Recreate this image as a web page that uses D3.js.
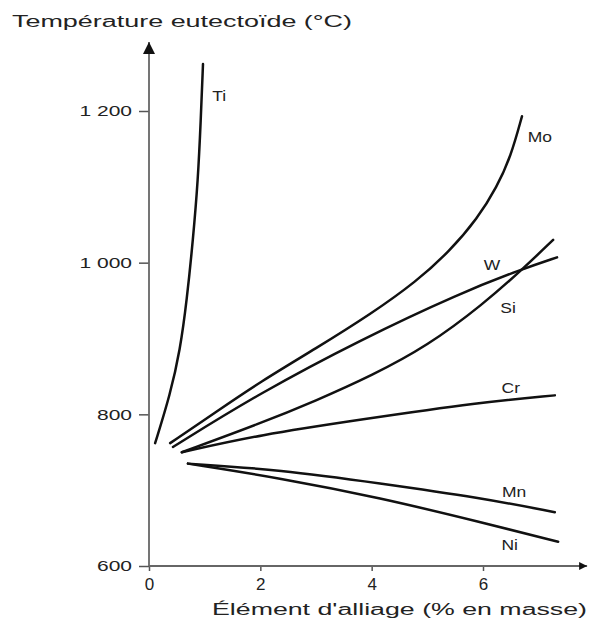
<!DOCTYPE html>
<html>
<head>
<meta charset="utf-8">
<script src="https://cdn.jsdelivr.net/npm/d3@7"></script>
<style>
  body { margin: 0; background: #fff; }
  svg { display: block; font-family: 'Liberation Sans', Arial, Helvetica, sans-serif; }
  .curve { fill: none; stroke: #111; stroke-width: 2.5; stroke-linecap: round; }
  .axis-line { stroke: #666; stroke-width: 1.8; }
  .lbl { fill: #222; }
</style>
</head>
<body>
<svg width="594" height="622"></svg>
<script>
// element names
const elements = ['Ti', 'Mo', 'W', 'Si', 'Cr', 'Mn', 'Ni'];

// % mass / eutectoid temperature
const tiX = [0.11, 0.38, 0.56, 0.68, 0.79, 0.88, 0.93, 0.97];
const tiY = [762, 826, 885, 951, 1030, 1109, 1188, 1262];
const moX = [0.38, 1.2, 2.0, 3.0, 4.0, 4.8, 5.4, 5.9, 6.25, 6.5, 6.70];
const moY = [762, 803, 843, 887, 933, 975, 1015, 1058, 1100, 1140, 1193];
const wX = [0.43, 1.99, 3.79, 5.59, 6.72, 7.33];
const wY = [757, 828, 898, 960, 992, 1007];
const siX = [0.59, 2.0, 3.0, 4.0, 5.0, 6.0, 6.72, 7.26];
const siY = [750, 788, 818, 851, 890, 945, 992, 1030];
const crX = [0.59, 1.99, 3.79, 5.95, 7.29];
const crY = [750, 773, 793, 816, 825];
const mnX = [0.70, 2.35, 4.15, 5.95, 7.29];
const mnY = [735, 727, 709, 690, 671];
const niX = [0.70, 2.35, 4.15, 5.95, 7.35];
const niY = [735, 716, 690, 658, 632];

// where each name sits (data units)
const labelX = [1.26, 7.02, 6.16, 6.45, 6.50, 6.56, 6.48];
const labelY = [1219, 1166, 997, 940, 834, 698, 628];

const xTicks = [0, 2, 4, 6];
const yTicks = [600, 800, 1000, 1200];
const xEnd = 7.87;
const yEnd = 1291;

const seriesX = [tiX, moX, wX, siX, crX, mnX, niX];
const seriesY = [tiY, moY, wY, siY, crY, mnY, niY];

const svg = d3.select('svg');

const x = d3.scaleLinear().domain([0, 6]).range([149, 483]);
const y = d3.scaleLinear().domain([600, 1200]).range([566, 111]);

const fr = d3.formatLocale({ decimal: ',', thousands: ' ', grouping: [3], currency: ['', ' €'] });
const fmt = fr.format(',d');

// arrow heads
const defs = svg.append('defs');
defs.append('marker')
    .attr('id', 'arrowUp')
    .attr('viewBox', '0 0 10 10')
    .attr('refX', 10).attr('refY', 5)
    .attr('markerWidth', 13).attr('markerHeight', 12)
    .attr('markerUnits', 'userSpaceOnUse')
    .attr('orient', 'auto')
    .append('path').attr('d', 'M0,0L10,5L0,10Z').attr('fill', '#111');
defs.append('marker')
    .attr('id', 'arrowRight')
    .attr('viewBox', '0 0 10 10')
    .attr('refX', 10).attr('refY', 5)
    .attr('markerWidth', 9).attr('markerHeight', 8)
    .attr('markerUnits', 'userSpaceOnUse')
    .attr('orient', 'auto')
    .append('path').attr('d', 'M0,0L10,5L0,10Z').attr('fill', '#111');

// axes
const yAxis = svg.append('g')
    .attr('transform', `translate(${x(0)},0)`)
    .call(d3.axisLeft(y).tickValues(yTicks).tickSize(10).tickFormat(fmt));
yAxis.select('.domain').remove();
yAxis.selectAll('.tick line').attr('stroke', '#555').attr('stroke-width', 1.5);
yAxis.selectAll('.tick text')
    .attr('x', 0)
    .attr('dy', '0.35em')
    .attr('font-size', 14)
    .attr('fill', '#222')
    .attr('transform', 'translate(-17,0) scale(1.5,1)');

const xAxis = svg.append('g')
    .attr('transform', `translate(0,${y(600)})`)
    .call(d3.axisBottom(x).tickValues(xTicks).tickSize(5).tickPadding(7).tickFormat(d3.format('d')));
xAxis.select('.domain').remove();
xAxis.selectAll('.tick line').attr('stroke', '#555').attr('stroke-width', 1.5);
xAxis.selectAll('.tick text')
    .attr('font-size', 17)
    .attr('fill', '#222');

svg.append('line')
    .attr('class', 'axis-line')
    .attr('x1', x(0)).attr('y1', y(600))
    .attr('x2', x(0)).attr('y2', y(yEnd))
    .attr('marker-end', 'url(#arrowUp)');
svg.append('line')
    .attr('class', 'axis-line')
    .attr('x1', x(0)).attr('y1', y(600))
    .attr('x2', x(xEnd)).attr('y2', y(600))
    .attr('marker-end', 'url(#arrowRight)');

// curves
const line = d3.line()
    .x((d) => x(d[0]))
    .y((d) => y(d[1]))
    .curve(d3.curveBasis);

elements.forEach((name, i) => {
    const pts = seriesX[i].map((v, j) => [v, seriesY[i][j]]);
    svg.append('path')
        .attr('class', 'curve')
        .attr('d', line(pts));

    svg.append('text')
        .attr('class', 'lbl')
        .attr('text-anchor', 'middle')
        .attr('dy', '0.35em')
        .attr('font-size', 14)
        .attr('transform', `translate(${x(labelX[i])},${y(labelY[i])}) scale(1.25,1)`)
        .text(name);
});

// titles
svg.append('text')
    .attr('class', 'lbl')
    .attr('x', 12)
    .attr('y', 27)
    .attr('font-size', 16)
    .attr('textLength', 340)
    .attr('lengthAdjust', 'spacingAndGlyphs')
    .text('Température eutectoïde (°C)');

svg.append('text')
    .attr('class', 'lbl')
    .attr('x', 212)
    .attr('y', 615)
    .attr('font-size', 16)
    .attr('textLength', 375)
    .attr('lengthAdjust', 'spacingAndGlyphs')
    .text('Élément d\'alliage (% en masse)');
</script>
</body>
</html>
